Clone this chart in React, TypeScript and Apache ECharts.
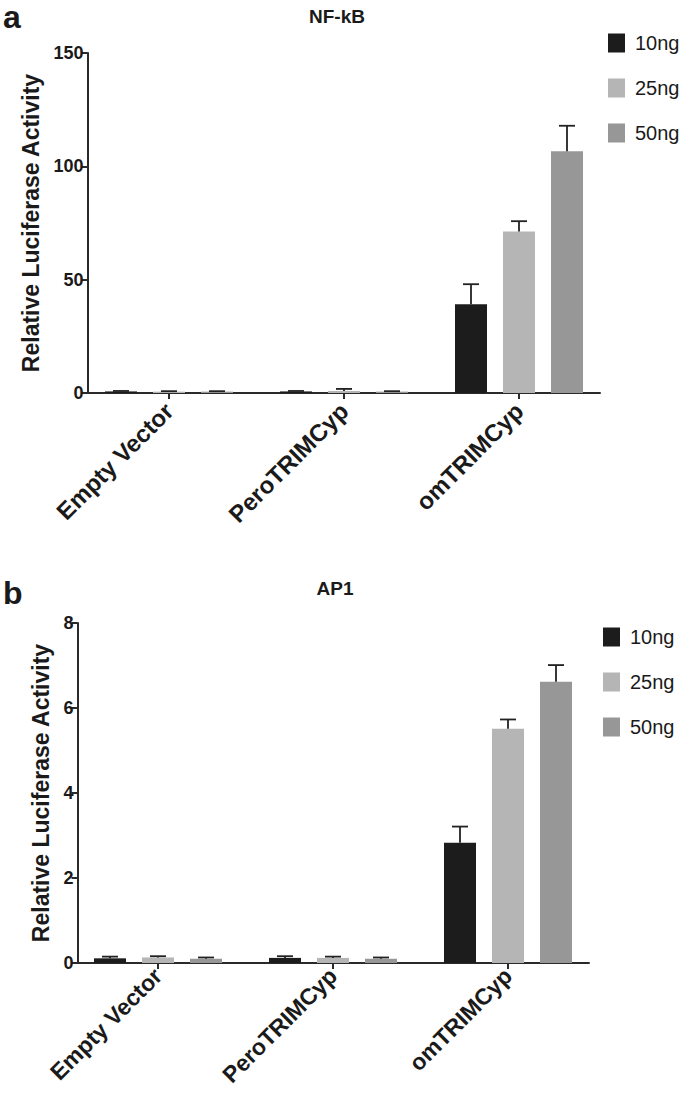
import React, { useEffect, useRef } from "react";
import * as echarts from "echarts";

// ---- data ----
const categories = ["Empty Vector", "PeroTRIMCyp", "omTRIMCyp"];
const doses = ["10ng", "25ng", "50ng"];

// NF-kB (panel a)
const nfkb10 = [0.7, 0.7, 39.1];
const nfkb25 = [0.6, 0.9, 71.2];
const nfkb50 = [0.6, 0.6, 106.7];
const nfkbErr10 = [0.2, 0.2, 8.9];
const nfkbErr25 = [0.2, 0.9, 4.6];
const nfkbErr50 = [0.2, 0.2, 11.2];
const nfkbTicks = { min: 0, max: 150, interval: 50 };

// AP1 (panel b)
const ap1_10 = [0.11, 0.12, 2.83];
const ap1_25 = [0.13, 0.12, 5.51];
const ap1_50 = [0.1, 0.1, 6.62];
const ap1Err10 = [0.04, 0.04, 0.38];
const ap1Err25 = [0.03, 0.03, 0.22];
const ap1Err50 = [0.03, 0.03, 0.39];
const ap1Ticks = { min: 0, max: 8, interval: 2 };

const colors = ["#1c1c1c", "#b5b5b5", "#979797"];
const FONT = "Liberation Sans, Arial, Helvetica, sans-serif";
const TXT = "#1a1a1a";
const AX = "#2a2a2a";

const BAR_W = 32;
const BAR_STEP = 48;

function buildPanel(
  gBar: number,
  gAx: number,
  ticks: { min: number; max: number; interval: number },
  nameGap: number,
  labelSize: number,
  labelMargin: number
) {
  const xAxes: any[] = [
    {
      gridIndex: gBar,
      type: "category",
      data: categories,
      axisLine: { show: false },
      axisTick: { show: true, alignWithLabel: true, length: 6, lineStyle: { color: AX, width: 2 } },
      axisLabel: {
        rotate: 45,
        fontFamily: FONT,
        fontWeight: "bold",
        fontSize: labelSize,
        color: TXT,
        margin: labelMargin,
      },
    },
    {
      gridIndex: gAx,
      type: "value",
      min: 0,
      max: 1,
      axisLine: { show: true, lineStyle: { color: AX, width: 2 } },
      axisTick: { show: false },
      axisLabel: { show: false },
      splitLine: { show: false },
    },
  ];
  const yAxes: any[] = [
    {
      gridIndex: gBar,
      type: "value",
      min: ticks.min,
      max: ticks.max,
      show: false,
      splitLine: { show: false },
    },
    {
      gridIndex: gAx,
      type: "value",
      min: ticks.min,
      max: ticks.max,
      interval: ticks.interval,
      axisLine: { show: true, lineStyle: { color: AX, width: 2 } },
      axisTick: { show: true, length: 6, lineStyle: { color: AX, width: 2 } },
      axisLabel: { fontFamily: FONT, fontWeight: "bold", fontSize: 18, color: TXT, margin: 4 },
      splitLine: { show: false },
      name: "Relative Luciferase Activity",
      nameLocation: "middle",
      nameRotate: 90,
      nameGap,
      nameTextStyle: { fontFamily: FONT, fontWeight: "bold", fontSize: 23, color: TXT },
    },
  ];
  return { xAxes, yAxes };
}

function barSeries(xi: number, yi: number, means: number[][], errs: number[][]) {
  const out: any[] = [];
  means.forEach((m, k) => {
    out.push({
      type: "bar",
      name: doses[k],
      xAxisIndex: xi,
      yAxisIndex: yi,
      data: m,
      barWidth: BAR_W,
      barGap: "50%",
      itemStyle: { color: colors[k] },
      z: 2,
    });
  });
  errs.forEach((e, k) => {
    const offset = (k - 1) * BAR_STEP;
    out.push({
      type: "custom",
      name: "err" + k,
      xAxisIndex: xi,
      yAxisIndex: yi,
      z: 3,
      data: e.map((v, i) => [i, means[k][i], v]),
      encode: { x: 0, y: 1 },
      renderItem: (params: any, api: any) => {
        const ci = api.value(0);
        const mean = api.value(1);
        const err = api.value(2);
        const base = api.coord([ci, mean]);
        const top = api.coord([ci, mean + err]);
        const x = base[0] + offset;
        const st = { stroke: "#222", lineWidth: 1.8 };
        return {
          type: "group",
          children: [
            { type: "line", shape: { x1: x, y1: base[1], x2: x, y2: top[1] }, style: st },
            { type: "line", shape: { x1: x - 8, y1: top[1], x2: x + 8, y2: top[1] }, style: st },
          ],
        };
      },
    });
  });
  return out;
}

export default function App() {
  const ref = useRef<HTMLDivElement>(null);
  useEffect(() => {
    if (!ref.current) return;
    const chart = echarts.init(ref.current, undefined, { renderer: "svg" });
    const nMeans = [nfkb10, nfkb25, nfkb50];
    const nErrs = [nfkbErr10, nfkbErr25, nfkbErr50];
    const aMeans = [ap1_10, ap1_25, ap1_50];
    const aErrs = [ap1Err10, ap1Err25, ap1Err50];

    const pA = buildPanel(0, 1, nfkbTicks, 37, 24, 14);
    const pB = buildPanel(2, 3, ap1Ticks, 18, 23, 9);

    const legendBase = {
      orient: "vertical",
      data: doses,
      icon: "rect",
      itemWidth: 17,
      itemHeight: 19,
      itemGap: 25,
      padding: 0,
      selectedMode: false,
      textStyle: { fontFamily: FONT, fontSize: 20, color: TXT, padding: [0, 0, 0, 5] },
    };

    const letterStyle = { fontFamily: FONT, fontWeight: "bold", fontSize: 32, lineHeight: 32, color: TXT };
    const headStyle = { fontFamily: FONT, fontWeight: "bold", fontSize: 19, color: TXT };
    const gridBase = { outerBoundsMode: "none", containLabel: false };

    chart.setOption({
      animation: false,
      backgroundColor: "#ffffff",
      title: [
        { text: "a", left: 3, top: 1, padding: 0, textStyle: letterStyle },
        { text: "NF-kB", left: 332, top: 2, textAlign: "center", textStyle: headStyle },
        { text: "b", left: 3, top: 577, padding: 0, textStyle: letterStyle },
        { text: "AP1", left: 330, top: 574, textAlign: "center", textStyle: headStyle },
      ],
      legend: [
        { ...legendBase, left: 608, top: 33 },
        { ...legendBase, left: 603, top: 627 },
      ],
      grid: [
        { ...gridBase, left: 81.5, top: 53, width: 525, height: 340 },
        { ...gridBase, left: 87.5, top: 53, width: 512.5, height: 340 },
        { ...gridBase, left: 70.5, top: 623, width: 525, height: 340 },
        { ...gridBase, left: 77.5, top: 623, width: 511.5, height: 340 },
      ],
      xAxis: [...pA.xAxes, ...pB.xAxes],
      yAxis: [...pA.yAxes, ...pB.yAxes],
      series: [...barSeries(0, 0, nMeans, nErrs), ...barSeries(2, 2, aMeans, aErrs)],
    });
    return () => chart.dispose();
  }, []);
  return (
    <div
      ref={ref}
      style={{ position: "absolute", left: 0, top: 0, width: 685, height: 1093, background: "#fff" }}
    />
  );
}
